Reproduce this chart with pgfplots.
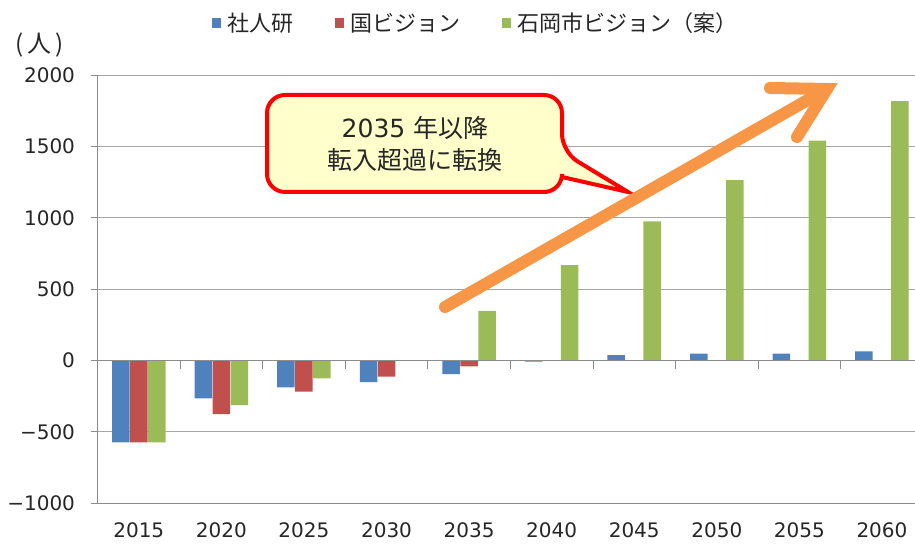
\documentclass[border=0pt]{standalone}
\usepackage{fontspec}
\setmainfont{DejaVu Sans}
\newfontfamily\jp{Noto Sans CJK JP}
\usepackage{pgfplots}
\pgfplotsset{compat=1.18}
\usepackage{pgfplotstable}
\definecolor{sblue}{HTML}{4F81BD}
\definecolor{sred}{HTML}{C0504D}
\definecolor{sgreen}{HTML}{9BBB59}
\definecolor{arrorange}{HTML}{F79646}
\definecolor{callyellow}{HTML}{FFFFCC}
\definecolor{gridgray}{HTML}{A6A6A6}
\definecolor{axgray}{HTML}{8C8C8C}

\pgfplotstableread{
x  a    b    c
0  -573 -573 -573
1  -265 -375 -312
2  -188 -218 -125
3  -151 -113 0
4  -95  -41  348
5  -8   0    669
6  38   0    974
7  48   0    1263
8  48   0    1540
9  64   0    1817
}\data

\begin{document}
\begin{tikzpicture}[x=1pt,y=1pt]
\useasboundingbox (0,0) rectangle (915,545);
\begin{axis}[
  at={(97.5pt,41.7pt)}, anchor=south west,
  scale only axis, width=817.5pt, height=428.3pt,
  xmin=-0.5, xmax=9.4, ymin=-1000, ymax=2000,
  ybar, bar width=0.212,
  axis x line*=bottom, axis y line*=left,
  axis line style={draw=axgray, line width=0.9pt},
  xtick={0,...,9},
  xticklabels={2015,2020,2025,2030,2035,2040,2045,2050,2055,2060},
  x tick style={draw=none},
  ytick={-1000,-500,0,500,1000,1500,2000},
  yticklabels={−1000,−500,0,500,1000,1500,2000},
  y tick style={draw=axgray, line width=0.9pt},
  tick align=outside, major tick length=7pt,
  ymajorgrids, grid style={draw=gridgray, line width=0.9pt},
  tick label style={font=\fontsize{20}{24}\selectfont, text=black!85},
  yticklabel style={xshift=-12pt},
  xticklabel style={yshift=-9pt},
  legend columns=3,
  legend style={at={(0.4624,1.1214)}, anchor=center, draw=none, fill=none,
    font=\jp\fontsize{22}{24}\selectfont, text=black!85,
    /tikz/every even column/.append style={column sep=40pt}},
  legend image code/.code={\fill[#1] (0pt,-5pt) rectangle (9pt,5pt); \path (13pt,0pt);},
]
\addplot[fill=sblue, draw=none, bar shift=-0.218] table[x=x,y=a]{\data};
\addlegendentry{社人研}
\addplot[fill=sred, draw=none, bar shift=0] table[x=x,y=b]{\data};
\addlegendentry{国ビジョン}
\addplot[fill=sgreen, draw=none, bar shift=0.218] table[x=x,y=c]{\data};
\addlegendentry{石岡市ビジョン（案）}
\draw[axgray, line width=0.9pt] (axis cs:-0.5,0) -- (axis cs:9.4,0);
\pgfplotsinvokeforeach{0.5,1.5,2.5,3.5,4.5,5.5,6.5,7.5,8.5}{
  \draw[axgray, line width=0.9pt] (axis cs:#1,0) -- ++(0pt,-8pt);
}
\end{axis}
% (人)
\node[font=\jp\fontsize{24}{28}\selectfont, text=black!85] at (40,500) {(\,人\,)};
% callout
\draw[red, line width=4pt, fill=callyellow, rounded corners=18pt]
  (267,400) |- (562,450) -- (562,393) [sharp corners] -- (628,353) -- (562,368)
  [rounded corners=18pt] |- (267,353) -- cycle;
\node[align=center, font=\fontsize{25}{32}\selectfont, text=black!85] at (415,401)
  {2035 {\jp 年以降}\\{\jp 転入超過に転換}};
% arrow
\draw[arrorange, line width=12pt, line cap=round] (445,238) -- (827,456);
\draw[arrorange, line width=12pt, line cap=round, line join=miter] (770,457) -- (827,456) -- (797,408);
\end{tikzpicture}
\end{document}
